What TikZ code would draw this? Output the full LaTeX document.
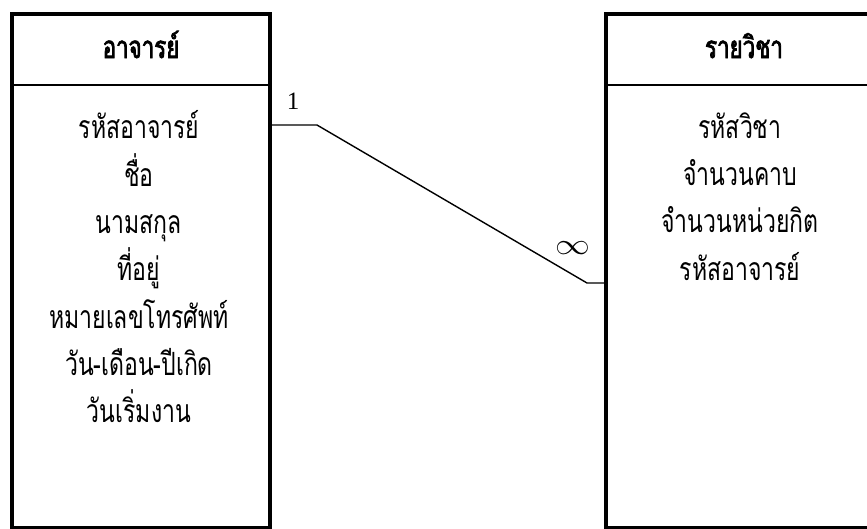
\documentclass[tikz,border=0pt]{standalone}
\usepackage{fontspec}
\newfontfamily\thai[Script=Thai,FakeStretch=0.72]{Loma}
\newfontfamily\thaib[Script=Thai,FakeStretch=0.72,FakeBold=2.5]{Loma}
\setmainfont{Liberation Serif}
\begin{document}
\begin{tikzpicture}[x=1pt,y=-1pt,
  entity/.style={draw,line width=4pt,anchor=north west,inner sep=0pt},
  hdrline/.style={line width=2pt},
  attr/.style={font=\thai\fontsize{32}{35}\selectfont,inner sep=0pt,anchor=base},
  hdr/.style={font=\thaib\fontsize{31}{34}\selectfont,inner sep=0pt,anchor=base},
  rel/.style={line width=1.4pt},
  card/.style={inner sep=0pt,font=\fontsize{25}{28}\selectfont}]
\useasboundingbox (0,0) rectangle (867,528);
\clip (0,0) rectangle (867,528);
\node[entity,minimum width=258pt,minimum height=514pt] (L) at (10,12) {};
\node[entity,minimum width=290pt,minimum height=514pt] (R) at (604,12) {};
\draw[hdrline] (L.west |- 0,85) -- (L.east |- 0,85);
\draw[hdrline] (R.west |- 0,85) -- (R.east |- 0,85);
\node[hdr] (lh) at (141,58) {อาจารย์};
\node[hdr] (rh) at (744,58) {รายวิชา};
\node[attr] (a1) at (139,138) {รหัสอาจารย์};
\node[attr] (a2) at (139,186) {ชื่อ};
\node[attr] (a3) at (139,233) {นามสกุล};
\node[attr] (a4) at (139,280) {ที่อยู่};
\node[attr] (a5) at (139,328) {หมายเลขโทรศัพท์};
\node[attr] (a6) at (139,375) {วัน-เดือน-ปีเกิด};
\node[attr] (a7) at (139,422) {วันเริ่มงาน};
\node[attr] (b1) at (740,138) {รหัสวิชา};
\node[attr] (b2) at (740,185) {จำนวนคาบ};
\node[attr] (b3) at (740,232) {จำนวนหน่วยกิต};
\node[attr] (b4) at (740,280) {รหัสอาจารย์};
\coordinate (k1) at (317,125);
\coordinate (k2) at (587,283);
\draw[rel] (L.east |- k1) -- (k1) -- (k2) -- (R.west |- k2);
\node[card] (one) at (293,101) {1};
\node[card] (many) at (573,248) {\scalebox{1.4}[1.2]{$\infty$}};
\end{tikzpicture}
\end{document}
